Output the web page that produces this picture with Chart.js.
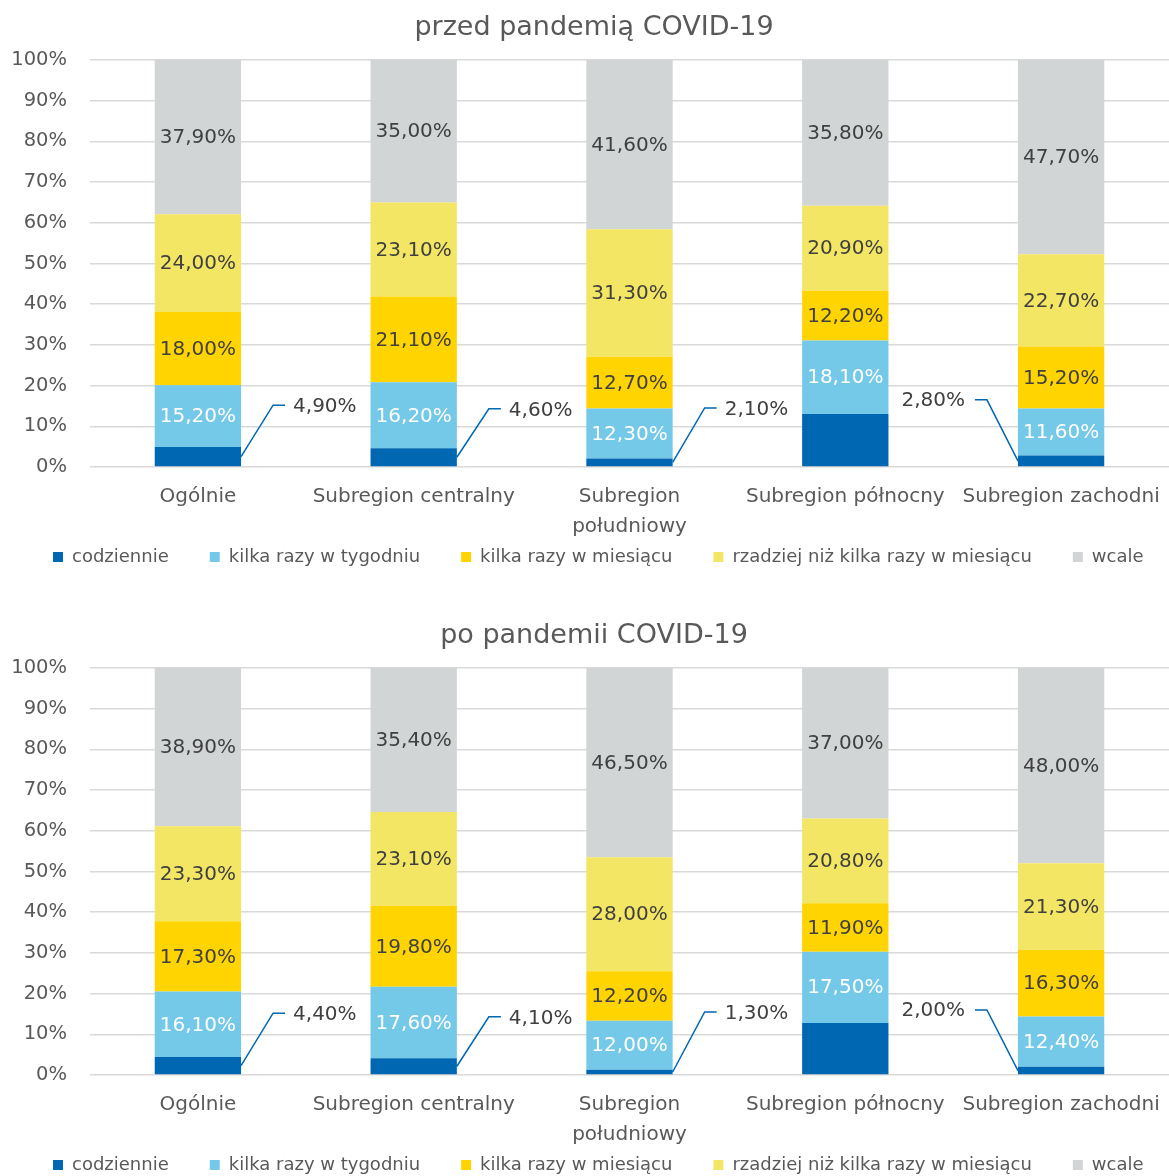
<!DOCTYPE html>
<html lang="pl">
<head>
<meta charset="utf-8">
<script src="https://cdn.jsdelivr.net/npm/chart.js@4/dist/chart.umd.min.js"></script>
<style>
  html, body { margin: 0; padding: 0; background: #fff; overflow: hidden; }
  .wrap { position: absolute; left: 0; width: 1169px; height: 588px; }
</style>
</head>
<body>
<div class="wrap" style="top:0"><canvas id="c1" width="1169" height="588"></canvas></div>
<div class="wrap" style="top:608px"><canvas id="c2" width="1169" height="588"></canvas></div>
<script>
// ---- data ----
const categories = ['Ogólnie', 'Subregion centralny', ['Subregion', 'południowy'], 'Subregion północny', 'Subregion zachodni'];
const seriesNames = ['codziennie', 'kilka razy w tygodniu', 'kilka razy w miesiącu', 'rzadziej niż kilka razy w miesiącu', 'wcale'];
const yTicks = [0, 10, 20, 30, 40, 50, 60, 70, 80, 90, 100];

const titlePrzed = 'przed pandemią COVID-19';
const przedCodziennie = [4.9, 4.6, 2.1, 13.0, 2.8];
const przedTygodniu   = [15.2, 16.2, 12.3, 18.1, 11.6];
const przedMiesiacu   = [18.0, 21.1, 12.7, 12.2, 15.2];
const przedRzadziej   = [24.0, 23.1, 31.3, 20.9, 22.7];
const przedWcale      = [37.9, 35.0, 41.6, 35.8, 47.7];

const titlePo = 'po pandemii COVID-19';
const poCodziennie = [4.4, 4.1, 1.3, 12.8, 2.0];
const poTygodniu   = [16.1, 17.6, 12.0, 17.5, 12.4];
const poMiesiacu   = [17.3, 19.8, 12.2, 11.9, 16.3];
const poRzadziej   = [23.3, 23.1, 28.0, 20.8, 21.3];
const poWcale      = [38.9, 35.4, 46.5, 37.0, 48.0];

// ---- styles ----
const colors = ['#0067B2', '#74C8E8', '#FFD400', '#F4E665', '#D1D5D5'];
const labelColors = ['#FFFFFF', '#FFFFFF', '#404040', '#404040', '#404040'];
const FONT = "'DejaVu Sans', sans-serif";
const TXT = '#595959';
const LEGEND_PAD = 41;
const LEGEND_FONT = 18;

// callout label placement for the small "codziennie" segments (style, not data)
const calloutPrzed = [{side:'right', level:15.2}, {side:'right', level:14.3}, {side:'right', level:14.5}, null, {side:'left', level:16.5}];
const calloutPo    = [{side:'right', level:15.2}, {side:'right', level:14.3}, {side:'right', level:15.5}, null, {side:'left', level:16.0}];

function fmt(v) { return v.toFixed(2).replace('.', ',') + '%'; }

const segLabels = {
  id: 'segLabels',
  afterLayout(chart) {
    // legend: one row below the two-line category labels
    const lg = chart.legend;
    if (lg) {
      lg.top = 557 - LEGEND_PAD - LEGEND_FONT / 2;
      lg.bottom = chart.height;
      lg.height = lg.bottom - lg.top;
      lg.left = 53 - LEGEND_PAD;
      lg.right = chart.width + 200;
      lg.width = lg.right - lg.left;
    }
    const tb = chart.titleBlock;
    if (tb) { tb.left += 9.5; tb.right += 9.5; }
  },
  afterDatasetsDraw(chart, args, opts) {
    const ctx = chart.ctx;
    const yScale = chart.scales.y;
    ctx.save();
    ctx.font = '20px ' + FONT;
    ctx.textBaseline = 'middle';
    chart.data.datasets.forEach((ds, di) => {
      const meta = chart.getDatasetMeta(di);
      meta.data.forEach((bar, i) => {
        const v = ds.data[i];
        const p = bar.getProps(['x', 'y', 'base', 'width'], true);
        const cy = (p.y + p.base) / 2;
        const co = di === 0 ? opts.callouts[i] : null;
        const text = fmt(v);
        if (co) {
          const ly = yScale.getPixelForValue(co.level);
          const left = p.x - p.width / 2, right = p.x + p.width / 2;
          ctx.strokeStyle = colors[0];
          ctx.lineWidth = 1.5;
          ctx.beginPath();
          if (co.side === 'right') {
            ctx.moveTo(right, cy);
            ctx.lineTo(right + 32, ly);
            ctx.lineTo(right + 44, ly);
            ctx.stroke();
            ctx.fillStyle = '#404040';
            ctx.textAlign = 'left';
            ctx.fillText(text, right + 52, ly + 2);
          } else {
            ctx.moveTo(left, cy);
            ctx.lineTo(left - 31, ly);
            ctx.lineTo(left - 43, ly);
            ctx.stroke();
            ctx.fillStyle = '#404040';
            ctx.textAlign = 'right';
            ctx.fillText(text, left - 53, ly + 1);
          }
        } else {
          ctx.fillStyle = labelColors[di];
          ctx.textAlign = 'center';
          ctx.fillText(text, p.x, cy + 1);
        }
      });
    });
    ctx.restore();
  }
};

function makeChart(id, title, series, callouts) {
  return new Chart(document.getElementById(id), {
    type: 'bar',
    data: {
      labels: categories,
      datasets: series.map((d, k) => ({
        label: seriesNames[k],
        data: d,
        backgroundColor: colors[k],
        borderWidth: 0,
        categoryPercentage: 1,
        barPercentage: 0.4
      }))
    },
    options: {
      responsive: false,
      animation: false,
      layout: { padding: 0 },
      scales: {
        x: {
          stacked: true,
          grid: { display: false, drawTicks: false },
          border: { display: false },
          ticks: { color: TXT, font: { family: FONT, size: 20, lineHeight: 1.5 }, padding: 15, maxRotation: 0, autoSkip: false },
          afterFit(s) { s.height = 75; s.paddingLeft = 0; s.paddingRight = 0; }
        },
        y: {
          stacked: true,
          min: 0, max: 100,
          afterBuildTicks(s) { s.ticks = yTicks.map(v => ({ value: v })); },
          grid: { color: '#D9D9D9', lineWidth: 1.5, drawTicks: false },
          border: { display: false },
          ticks: { color: TXT, font: { family: FONT, size: 19.5 }, padding: 23, callback: v => v + '%' },
          afterFit(s) { s.width = 90; }
        }
      },
      plugins: {
        title: { display: true, text: title, color: TXT, font: { family: FONT, size: 27, weight: 'normal' }, padding: { top: 12, bottom: 15.6 } },
        legend: {
          position: 'bottom',
          align: 'start',
          maxHeight: 46,
          labels: { color: TXT, font: { family: FONT, size: LEGEND_FONT }, boxWidth: 10, boxHeight: 10, padding: LEGEND_PAD }
        },
        tooltip: { enabled: false },
        segLabels: { callouts: callouts }
      }
    },
    plugins: [segLabels]
  });
}

makeChart('c1', titlePrzed, [przedCodziennie, przedTygodniu, przedMiesiacu, przedRzadziej, przedWcale], calloutPrzed);
makeChart('c2', titlePo, [poCodziennie, poTygodniu, poMiesiacu, poRzadziej, poWcale], calloutPo);
</script>
</body>
</html>
